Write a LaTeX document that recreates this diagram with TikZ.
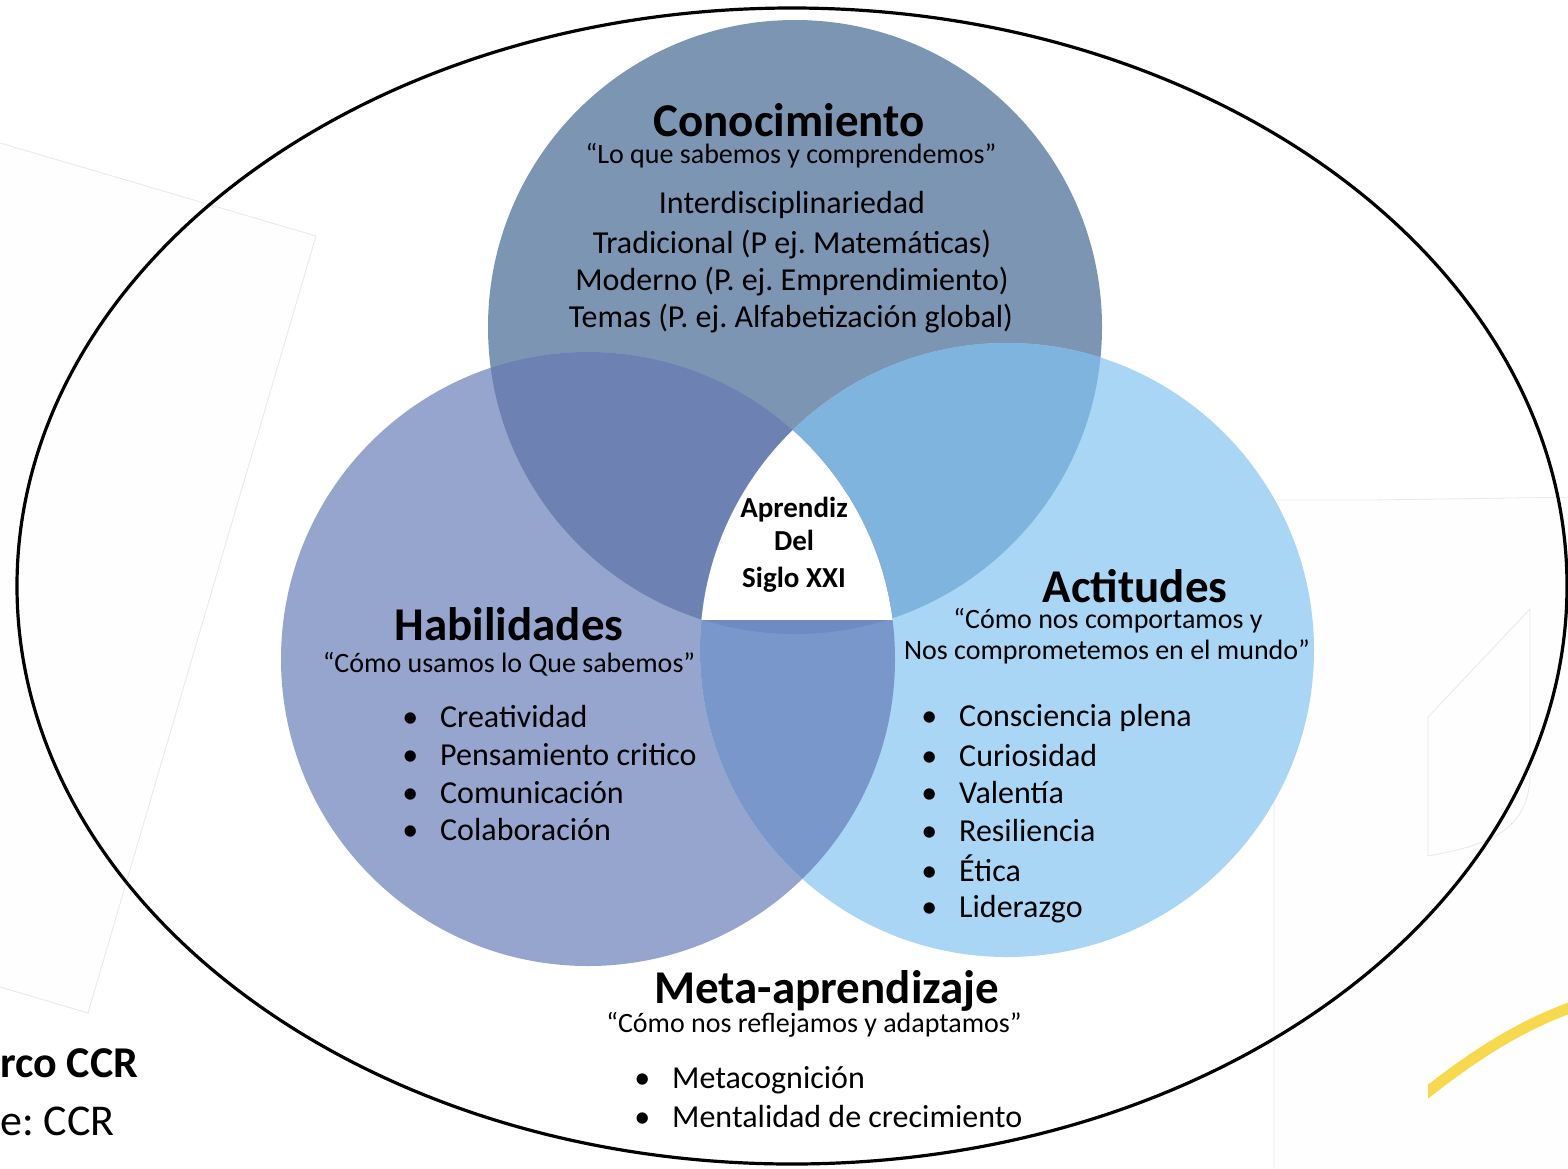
\documentclass[tikz,border=0pt]{standalone}
\usepackage{fontspec}
\setmainfont{Carlito}
\usetikzlibrary{positioning}
\frenchspacing

\definecolor{conocfill}{HTML}{7B95B2}
\definecolor{habilfill}{HTML}{95A5CE}
\definecolor{actitfill}{HTML}{A9D6F5}
\definecolor{conochabil}{HTML}{6D82B3}
\definecolor{conocactit}{HTML}{7FB4DE}
\definecolor{habilactit}{HTML}{7A97CB}
\definecolor{trio}{HTML}{6E8CC3}
\definecolor{fondo}{HTML}{FEFEFE}
\definecolor{borde}{HTML}{E8E8E8}
\definecolor{cuerda}{HTML}{F6D94C}

\tikzstyle{titulo} = [font=\fontsize{47}{50}\selectfont\bfseries, inner sep=0pt, anchor=base]
\tikzstyle{lema} = [font=\fontsize{28}{32}\selectfont, inner sep=0pt, anchor=base]
\tikzstyle{tema} = [font=\fontsize{32}{38}\selectfont, inner sep=0pt, anchor=base]
\tikzstyle{item} = [font=\fontsize{32}{38}\selectfont, inner sep=0pt, anchor=base west]
\tikzstyle{centro} = [font=\fontsize{29}{34}\selectfont\bfseries, inner sep=0pt, anchor=base]
\tikzstyle{marco} = [font=\fontsize{44}{50}\selectfont, inner sep=0pt, anchor=base west]
\newcommand{\punto}{\llap{\textbullet\hspace{22pt}}}

\begin{document}
\begin{tikzpicture}[x=1pt, y=-1pt]
\useasboundingbox (0,0) rectangle (1568,1168);
\clip (0,0) rectangle (1568,1168);

% leftovers of the slide behind the diagram
\filldraw[fill=fondo, draw=borde, line width=0.8] (-10,140) -- (316,236) -- (88,1013) -- (-10,984) -- cycle;
\filldraw[fill=fondo, draw=borde, line width=0.8] (1274,1180) -- (1274,500) -- (1370,500) -- (1580,497) -- (1580,1180) -- cycle;
\draw[borde, line width=0.8] (1428,856) -- (1428,717) -- (1530,609) -- (1530,780) .. controls (1526,830) and (1490,845) .. (1428,856);
\begin{scope}
  \clip (1428,900) rectangle (1568,1168);
  \draw[cuerda, line width=11] (1420,1098) .. controls (1465,1062) and (1515,1027) .. (1575,1006);
\end{scope}

% outer ellipse
\draw[line width=3.2] (792,586) ellipse [x radius=775, y radius=578];

% the three circles
\coordinate (conoc) at (795,327);
\coordinate (habil) at (588,659);
\coordinate (actit) at (1007,650);
\fill[conocfill] (conoc) circle (307);
\fill[habilfill] (habil) circle (307);
\fill[actitfill] (actit) circle (307);
\begin{scope}
  \clip (conoc) circle (307);
  \fill[conochabil] (habil) circle (307);
  \fill[conocactit] (actit) circle (307);
\end{scope}
\begin{scope}
  \clip (habil) circle (307);
  \fill[habilactit] (actit) circle (307);
  \clip (actit) circle (307);
  \fill[trio] (conoc) circle (307);
  \fill[white] (650,400) rectangle (950,620);
\end{scope}

% Conocimiento
\node[titulo] (conoc-t) at (789,136) {Conocimiento};
\node[lema] (conoc-l) at (791,163) {“Lo que sabemos y comprendemos”};
\node[tema] (conoc-1) at (792,213) {Interdisciplinariedad};
\node[tema] (conoc-2) at (792,253) {Tradicional (P ej. Matemáticas)};
\node[tema] (conoc-3) at (792,290) {Moderno (P. ej. Emprendimiento)};
\node[tema] (conoc-4) at (791,327) {Temas (P. ej. Alfabetización global)};

% centre
\node[centro] (centro-1) at (794,517) {Aprendiz};
\node[centro] (centro-2) at (794,550) {Del};
\node[centro] (centro-3) at (794,587) {Siglo XXI};

% Habilidades
\node[titulo] (habil-t) at (509,640) {Habilidades};
\node[lema] (habil-l) at (509,672) {“Cómo usamos lo Que sabemos”};
\node[item] (habil-1) at (440,727) {\punto Creatividad};
\node[item] (habil-2) at (440,765) {\punto Pensamiento critico};
\node[item] (habil-3) at (440,803) {\punto Comunicación};
\node[item] (habil-4) at (440,840) {\punto Colaboración};

% Actitudes
\node[titulo] (actit-t) at (1135,602) {Actitudes};
\node[lema] (actit-l1) at (1108,628) {“Cómo nos comportamos y};
\node[lema] (actit-l2) at (1107,659) {Nos comprometemos en el mundo”};
\node[item] (actit-1) at (959,726) {\punto Consciencia plena};
\node[item] (actit-2) at (959,766) {\punto Curiosidad};
\node[item] (actit-3) at (959,803) {\punto Valentía};
\node[item] (actit-4) at (959,841) {\punto Resiliencia};
\node[item] (actit-5) at (959,881) {\punto Ética};
\node[item] (actit-6) at (959,917) {\punto Liderazgo};

% Meta-aprendizaje
\node[titulo] (meta-t) at (827,1003) {Meta-aprendizaje};
\node[lema] (meta-l) at (814,1032) {“Cómo nos reflejamos y adaptamos”};
\node[item] (meta-1) at (672,1088) {\punto Metacognición};
\node[item] (meta-2) at (672,1127) {\punto Mentalidad de crecimiento};

% caption cut by the page edge
\node[marco, font=\fontsize{44}{50}\selectfont\bfseries] (marco-1) at (0,1077) {rco CCR};
\node[marco] (marco-2) at (0,1135) {e: CCR};

\end{tikzpicture}
\end{document}
